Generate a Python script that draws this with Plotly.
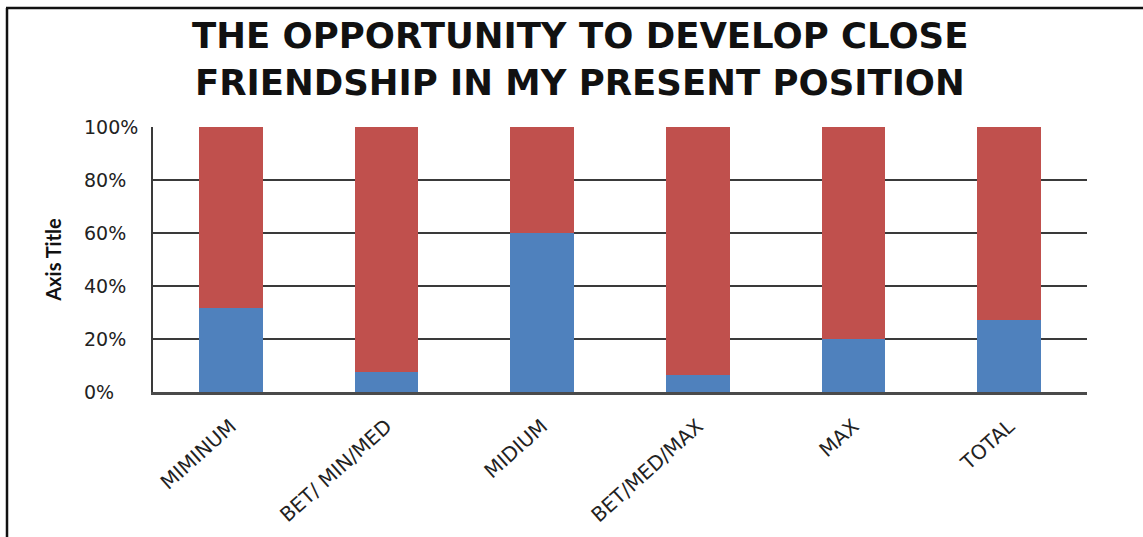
import plotly.graph_objects as go

# Survey result: share of responses per level
categories = ["MIMINUM", "BET/ MIN/MED", "MIDIUM", "BET/MED/MAX", "MAX", "TOTAL"]
blue_share = [31.7, 7.4, 60.0, 6.3, 20.0, 27.1]
red_share = [68.3, 92.6, 40.0, 93.7, 80.0, 72.9]
y_ticks = [0, 20, 40, 60, 80, 100]
y_tick_labels = ["0%", "20%", "40%", "60%", "80%", "100%"]

W, H = 1143, 537
L, R, T, B = 153, 56, 127, 145
plot_w = W - L - R
plot_h = H - T - B

WIDE = "DejaVu Sans"


def px_x(p):
    return (p - L) / plot_w


def px_y(p):
    return (H - B - p) / plot_h


fig = go.Figure()
fig.add_trace(go.Bar(x=categories, y=blue_share, marker=dict(color="#4F81BD", line=dict(width=0)),
                     showlegend=False, hoverinfo="skip"))
fig.add_trace(go.Bar(x=categories, y=red_share, marker=dict(color="#C0504D", line=dict(width=0)),
                     showlegend=False, hoverinfo="skip"))

# chart frame (left and top edges)
fig.add_shape(type="line", xref="paper", yref="paper", x0=px_x(7), x1=px_x(7),
              y0=px_y(8), y1=px_y(560), line=dict(color="#111111", width=2.5))
fig.add_shape(type="line", xref="paper", yref="paper", x0=px_x(6), x1=px_x(1160),
              y0=px_y(8), y1=px_y(8), line=dict(color="#111111", width=2.5))

# left-aligned value-axis labels
for v, txt in zip(y_ticks, y_tick_labels):
    fig.add_annotation(x=px_x(82), xref="paper", y=v, yref="y", text=txt,
                       showarrow=False, xanchor="left", yanchor="middle",
                       font=dict(family=WIDE, size=19, color="#222222"))

# two-line chart title
title_lines = ["THE OPPORTUNITY TO DEVELOP CLOSE", "FRIENDSHIP IN MY PRESENT POSITION"]
for line, ypx in zip(title_lines, [35, 82]):
    fig.add_annotation(x=px_x(580), xref="paper", y=px_y(ypx), yref="paper", text=line,
                       showarrow=False, xanchor="center", yanchor="middle",
                       font=dict(family=WIDE, size=35.5, color="#111111", weight="bold"))

fig.update_layout(
    width=W, height=H,
    margin=dict(l=L, r=R, t=T, b=B, autoexpand=False),
    paper_bgcolor="white", plot_bgcolor="white",
    barmode="stack", bargap=0.59,
    font=dict(family=WIDE, color="#222222"),
)
fig.update_yaxes(range=[0, 100], tickvals=y_ticks, showticklabels=False,
                 showgrid=True, gridcolor="#3a3a3a", gridwidth=1.5,
                 showline=True, linecolor="#3a3a3a", linewidth=2,
                 zeroline=False, ticks="",
                 title=dict(text="<b>Axis Title</b>", standoff=84,
                            font=dict(family="Lato", size=20, color="#111111")))
fig.update_xaxes(showline=True, linecolor="#4a4a4a", linewidth=2.5, showgrid=False,
                 tickangle=-42, ticks="", ticklabelstandoff=12,
                 tickfont=dict(family=WIDE, size=20, color="#222222"))

fig.write_html("out.html")
